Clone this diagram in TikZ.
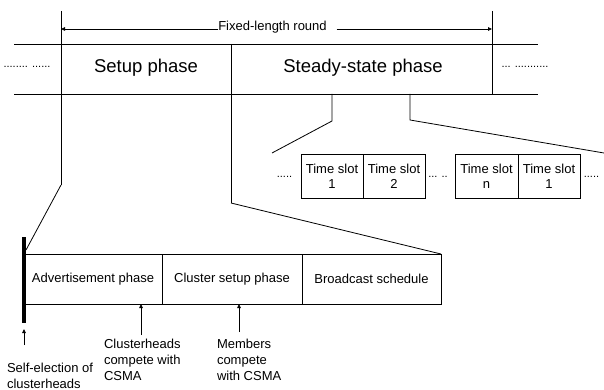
\documentclass[tikz,border=0pt]{standalone}
\usepackage{fontspec}
\setmainfont{Liberation Sans}
\usetikzlibrary{arrows.meta}
\begin{document}
\begin{tikzpicture}[x=1pt,y=-1pt,
  every node/.style={inner sep=0pt, outer sep=0pt},
  ln/.style={line width=0.8pt},
  phase/.style={font=\fontsize{18.5}{22}\selectfont},
  lbl/.style={font=\fontsize{13}{16}\selectfont, align=left, anchor=base west},
  slot/.style={draw, line width=0.8pt, minimum width=62pt, minimum height=44pt,
    align=center, font=\fontsize{13}{15}\selectfont},
  subph/.style={draw, line width=0.8pt, minimum height=50pt,
    font=\fontsize{13}{16}\selectfont},
  tip/.style={ln, -{Triangle[length=4pt,width=3.5pt]}},
  dots/.style={font=\fontsize{11}{12}\selectfont}]
\useasboundingbox (0,0) rectangle (604,390);

% --- round: setup phase + steady-state phase ---
\coordinate (tl) at (14,44);  \coordinate (tr) at (538,44);
\coordinate (bl) at (14,94);  \coordinate (br) at (538,94);
\coordinate (v1top) at (61,11);  \coordinate (v1bot) at (61,185);
\coordinate (v2top) at (231,44); \coordinate (v2bot) at (231,203);
\coordinate (v3top) at (492,11); \coordinate (v3bot) at (492,94);
\draw[ln] (tl) -- (tr);
\draw[ln] (bl) -- (br);
\draw[ln] (v1top) -- (v1bot);
\draw[ln] (v2top) -- (v2bot);
\draw[ln] (v3top) -- (v3bot);

\node[phase] (setup) at (146,68) {Setup phase};
\node[phase] (steady) at (363,68) {Steady-state phase};
\node[dots] (dl) at (27,67) {........ ......};
\node[dots] (dr) at (525,67) {... ...........};

% round length dimension
\coordinate (a1) at (61,29);
\coordinate (a2) at (492,29);
\node[font=\fontsize{13}{15}\selectfont] (fixed) at (272.5,27) {Fixed-length round};
\draw[tip] (fixed.west |- a1) -- (a1);
\draw[tip] ([xshift=10pt]fixed.east |- a2) -- (a2);

% --- steady-state time slots ---
\node[slot] (ts1) at (332,176) {Time slot\\1};
\node[slot] (ts2) at (394,176) {Time slot\\2};
\node[slot, minimum width=63pt] (tsn) at (486.5,176) {Time slot\\n};
\node[slot] (ts1b) at (549,176) {Time slot\\1};
\node[dots] (d1) at (284.5,177) {.....};
\node[dots] (d2) at (438,177) {... ..};
\node[dots] (d3) at (591.5,177) {.....};

\coordinate (s1top) at (332,94);  \coordinate (s1knee) at (332,121);
\coordinate (s1end) at (272,153);
\coordinate (s2top) at (410,94);  \coordinate (s2knee) at (410,120);
\coordinate (s2end) at (604,153);
\draw[ln] (s1top) -- (s1knee) -- (s1end);
\draw[ln] (s2top) -- (s2knee) -- (s2end);

% --- setup phase detail ---
\node[subph, minimum width=138pt] (adv) at (93,279) {Advertisement phase};
\node[subph, minimum width=140pt] (clu) at (232,279) {Cluster setup phase};
\node[subph, minimum width=139pt] (bro) at (371.5,279) {Broadcast schedule};

\coordinate (bartop) at (24,237);
\coordinate (barbot) at (24,323);
\coordinate (barjoin) at (26,250);
\draw[line width=3.5pt] (bartop) -- (barbot);
\draw[ln] (v1bot) -- (barjoin);
\draw[ln] (v2bot) -- (bro.north east);

% events (base anchor sits on the last line of each label)
\node[lbl] (l1) at (104,380) {Clusterheads\\compete with\\CSMA};
\node[lbl] (l2) at (217,380) {Members\\compete\\with CSMA};
\node[lbl] (l3) at (7,388) {Self-election of\\clusterheads};

\coordinate (u1) at (141,335);
\coordinate (u2) at (239,332);
\coordinate (u3) at (24,345);
\coordinate (u3tip) at (24,329);
\draw[tip] (u1) -- (u1 |- adv.south);
\draw[tip] (u2) -- (u2 |- clu.south);
\draw[tip] (u3) -- (u3tip);
\end{tikzpicture}
\end{document}
